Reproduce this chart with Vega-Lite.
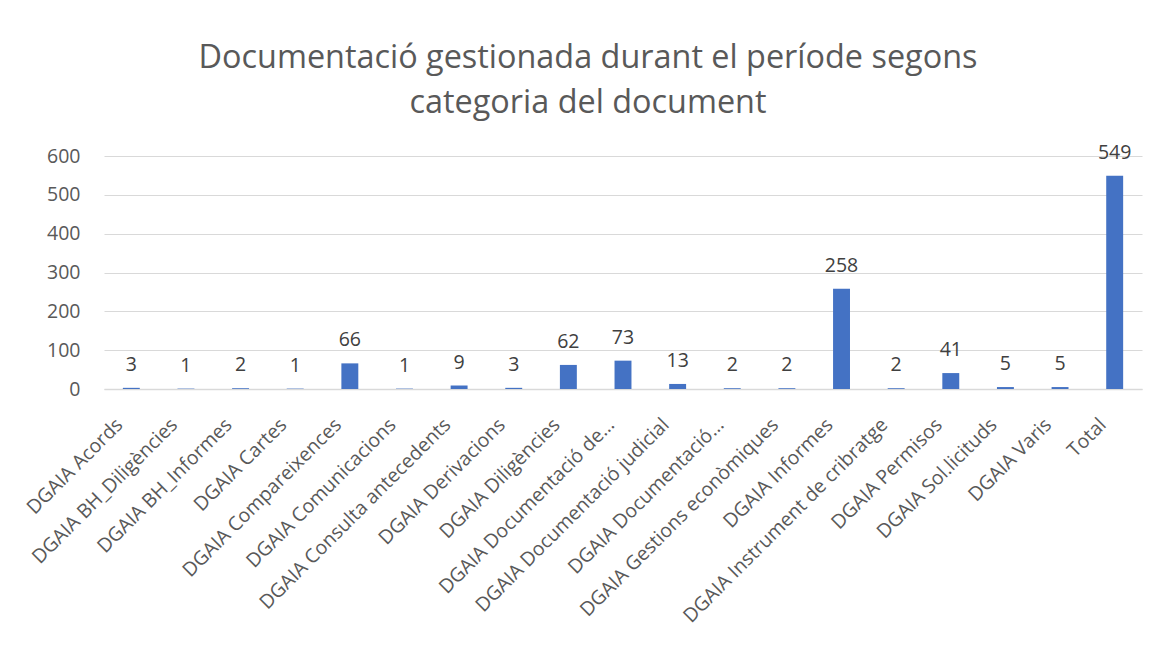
{
  "$schema": "https://vega.github.io/schema/vega-lite/v6.json",
  "autosize": {"type": "none"},
  "width": 1038,
  "height": 233,
  "padding": {"left": 104, "top": 156, "right": 18, "bottom": 259},
  "background": "white",
  "title": {
    "text": ["Documentació gestionada durant el període segons", "categoria del document"],
    "font": "Open Sans",
    "fontSize": 32.4,
    "fontWeight": "normal",
    "color": "#595959",
    "anchor": "middle",
    "dx": -35,
    "offset": 23,
    "lineHeight": 45
  },
  "data": {
    "values": [
      {"categoria": "DGAIA Acords", "valor": 3},
      {"categoria": "DGAIA BH_Diligències", "valor": 1},
      {"categoria": "DGAIA BH_Informes", "valor": 2},
      {"categoria": "DGAIA Cartes", "valor": 1},
      {"categoria": "DGAIA Compareixences", "valor": 66},
      {"categoria": "DGAIA Comunicacions", "valor": 1},
      {"categoria": "DGAIA Consulta antecedents", "valor": 9},
      {"categoria": "DGAIA Derivacions", "valor": 3},
      {"categoria": "DGAIA Diligències", "valor": 62},
      {"categoria": "DGAIA Documentació de…", "valor": 73},
      {"categoria": "DGAIA Documentació judicial", "valor": 13},
      {"categoria": "DGAIA Documentació…", "valor": 2},
      {"categoria": "DGAIA Gestions econòmiques", "valor": 2},
      {"categoria": "DGAIA Informes", "valor": 258},
      {"categoria": "DGAIA Instrument de cribratge", "valor": 2},
      {"categoria": "DGAIA Permisos", "valor": 41},
      {"categoria": "DGAIA Sol.licituds", "valor": 5},
      {"categoria": "DGAIA Varis", "valor": 5},
      {"categoria": "Total", "valor": 549}
    ]
  },
  "encoding": {
    "x": {
      "field": "categoria",
      "type": "nominal",
      "sort": null,
      "scale": {"paddingInner": 0.69, "paddingOuter": 0.345},
      "axis": {
        "title": null,
        "labelAngle": -45,
        "labelFont": "Open Sans",
        "labelFontSize": 19.5,
        "labelColor": "#595959",
        "labelPadding": 26,
        "labelOffset": -18,
        "ticks": false,
        "domainColor": "#d9d9d9",
        "domainWidth": 1.5,
        "labelLimit": 400
      }
    },
    "y": {
      "field": "valor",
      "type": "quantitative",
      "scale": {"domain": [0, 600], "nice": false},
      "axis": {
        "title": null,
        "values": [0, 100, 200, 300, 400, 500, 600],
        "labelFont": "Open Sans",
        "labelFontSize": 19.5,
        "labelColor": "#595959",
        "labelPadding": 24,
        "ticks": false,
        "domain": false,
        "gridColor": "#d9d9d9",
        "gridWidth": 1.2
      }
    }
  },
  "layer": [
    {"mark": {"type": "bar", "color": "#4472C4"}},
    {
      "mark": {
        "type": "text",
        "font": "Open Sans",
        "fontSize": 19.5,
        "color": "#404040",
        "baseline": "alphabetic",
        "dy": -17
      },
      "encoding": {"text": {"field": "valor", "type": "quantitative"}}
    }
  ],
  "config": {"view": {"stroke": null}}
}
